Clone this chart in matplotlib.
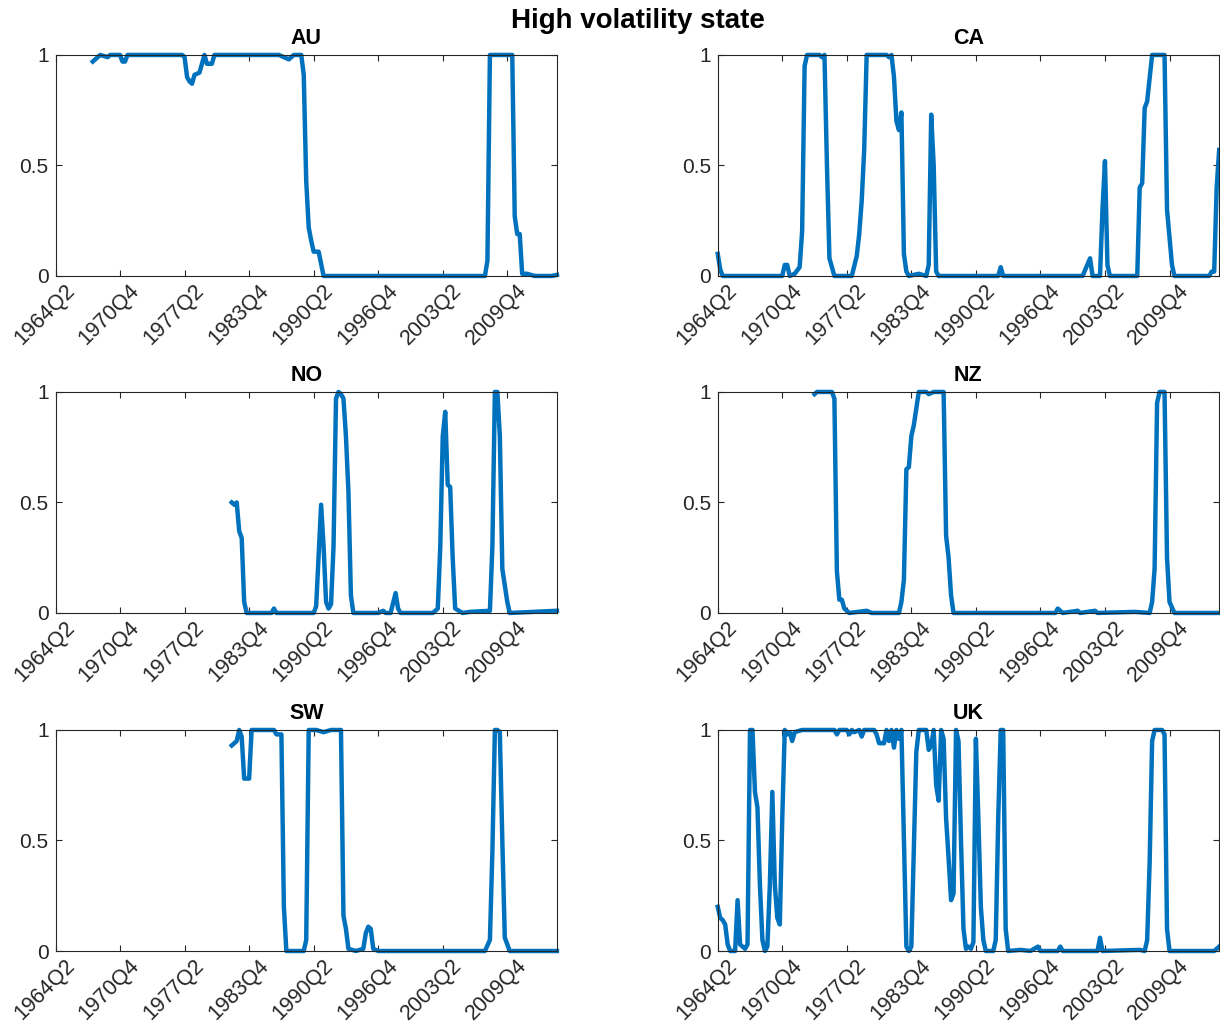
import matplotlib
matplotlib.use("Agg")
import matplotlib.pyplot as plt
import matplotlib.transforms as mtransforms

# quarters are counted from 1964Q2 (= 0)
tick_pos = [0, 26, 52, 78, 104, 130, 156, 182]
tick_labels = ["1964Q2", "1970Q4", "1977Q2", "1983Q4", "1990Q2", "1996Q4", "2003Q2", "2009Q4"]

au_q = [15, 18, 21, 22, 26, 27, 28, 29, 51, 52, 53, 54, 55, 56, 58, 60, 61, 63, 64, 90, 94, 96, 99,
        100, 101, 102, 103, 104, 106, 108, 173, 174, 175, 184, 185, 186, 187, 188, 190, 193, 200, 202]
au_p = [0.97, 1.0, 0.99, 1.0, 1.0, 0.97, 0.97, 1.0, 1.0, 0.99, 0.90, 0.88, 0.87, 0.91, 0.92, 1.0, 0.96, 0.96, 1.0, 1.0, 0.98, 1.0, 1.0,
        0.91, 0.43, 0.22, 0.16, 0.11, 0.11, 0.0, 0.0, 0.07, 1.0, 1.0, 0.27, 0.19, 0.19, 0.01, 0.01, 0.0, 0.0, 0.005]

ca_q = [0, 1, 2, 26, 27, 28, 29, 31, 33, 34, 35, 36, 41, 42, 43, 44, 45, 47, 54, 56, 57, 58, 59, 60,
        68, 69, 70, 71, 72, 73, 74, 75, 76, 77, 81, 84, 85, 86, 87, 88, 89, 113, 114, 115, 147, 150, 151,
        154, 155, 156, 157, 158, 169, 170, 171, 172, 173, 175, 180, 181, 183, 184, 198, 199, 200, 201, 202]
ca_p = [0.10, 0.03, 0.0, 0.0, 0.05, 0.05, 0.0, 0.01, 0.04, 0.2, 0.95, 1.0, 1.0, 0.99, 1.0, 0.5, 0.08, 0.0, 0.0, 0.09, 0.19, 0.34, 0.57, 1.0,
        1.0, 0.99, 1.0, 0.9, 0.7, 0.66, 0.74, 0.1, 0.02, 0.0, 0.01, 0.0, 0.05, 0.73, 0.5, 0.02, 0.0, 0.0, 0.04, 0.0, 0.0, 0.08, 0.0,
        0.0, 0.3, 0.52, 0.05, 0.0, 0.0, 0.4, 0.42, 0.76, 0.79, 1.0, 1.0, 0.3, 0.05, 0.0, 0.0, 0.02, 0.02, 0.4, 0.57]

no_q = [71, 72, 73, 74, 75, 76, 77, 87, 88, 89, 104, 105, 107, 108, 109, 110, 111, 112, 113, 114, 115, 116,
        117, 118, 119, 120, 130, 132, 133, 135, 137, 138, 139, 152, 154, 155, 156, 157, 158, 159, 160, 161,
        164, 167, 175, 176, 177, 178, 179, 180, 182, 183, 202]
no_p = [0.5, 0.49, 0.5, 0.37, 0.34, 0.05, 0.0, 0.0, 0.02, 0.0, 0.0, 0.03, 0.49, 0.3, 0.05, 0.02, 0.04, 0.3, 0.97, 1.0, 0.99, 0.97,
        0.8, 0.55, 0.08, 0.0, 0.0, 0.01, 0.0, 0.0, 0.09, 0.02, 0.0, 0.0, 0.02, 0.3, 0.8, 0.91, 0.58, 0.57, 0.25, 0.02,
        0.0, 0.005, 0.01, 0.3, 1.0, 1.0, 0.8, 0.2, 0.05, 0.0, 0.01]

nz_q = [39, 40, 46, 47, 48, 49, 50, 51, 53, 60, 62, 73, 74, 75, 76, 77, 78, 79, 81, 84, 85, 87, 91, 92,
        93, 94, 95, 136, 137, 139, 145, 146, 152, 153, 168, 174, 175, 176, 177, 178, 180, 181, 182, 184, 202]
nz_p = [0.99, 1.0, 1.0, 0.97, 0.19, 0.06, 0.06, 0.02, 0.0, 0.01, 0.0, 0.0, 0.05, 0.15, 0.65, 0.66, 0.8, 0.85, 1.0, 1.0, 0.99, 1.0, 1.0, 0.35,
        0.25, 0.08, 0.0, 0.0, 0.02, 0.0, 0.01, 0.0, 0.01, 0.0, 0.005, 0.0, 0.05, 0.2, 0.95, 1.0, 1.0, 0.25, 0.05, 0.0, 0.0]

sw_q = [71, 73, 74, 75, 76, 78, 79, 88, 89, 91, 92, 93, 100, 101, 102, 105, 108, 111, 115, 116, 117, 118,
        121, 124, 125, 126, 127, 128, 130, 173, 175, 176, 177, 178, 179, 180, 181, 183, 202]
sw_p = [0.93, 0.95, 1.0, 0.97, 0.78, 0.78, 1.0, 1.0, 0.98, 0.98, 0.2, 0.0, 0.0, 0.05, 1.0, 1.0, 0.99, 1.0, 1.0, 0.16, 0.1, 0.01,
        0.0, 0.01, 0.08, 0.11, 0.1, 0.01, 0.0, 0.0, 0.05, 0.45, 1.0, 1.0, 0.99, 0.5, 0.06, 0.0, 0.0]

uk_q = [0, 1, 2, 3, 4, 5, 7, 8, 9, 10, 11, 12, 13, 14, 15, 16, 17, 18, 19, 20, 21, 22, 23, 24, 25, 26,
        27, 28, 29, 30, 31, 34, 47, 48, 49, 52, 53, 54, 55, 57, 58, 59, 63, 64, 65, 67, 68, 69, 70, 71,
        72, 73, 74, 76, 77, 78, 80, 81, 84, 85, 86, 87, 88, 89, 90, 91, 92, 93, 94, 95, 96, 97, 98, 99,
        100, 101, 102, 103, 104, 105, 106, 107, 108, 111, 112, 113, 114, 115, 116, 117, 122, 126, 129,
        130, 137, 138, 139, 153, 154, 155, 170, 172, 173, 174, 175, 176, 179, 180, 181, 182, 200, 202]
uk_p = [0.20, 0.15, 0.14, 0.12, 0.03, 0.0, 0.0, 0.23, 0.03, 0.02, 0.01, 0.03, 1.0, 1.0, 0.72, 0.65, 0.3, 0.05, 0.0, 0.02, 0.3, 0.72, 0.3, 0.15, 0.12, 0.6,
        1.0, 0.98, 0.99, 0.95, 0.99, 1.0, 1.0, 0.98, 1.0, 1.0, 0.98, 1.0, 0.99, 1.0, 0.97, 1.0, 1.0, 0.98, 0.94, 0.94, 1.0, 0.95, 1.0, 0.92,
        1.0, 0.96, 1.0, 0.02, 0.0, 0.02, 0.9, 1.0, 1.0, 0.91, 0.93, 1.0, 0.75, 0.68, 1.0, 0.96, 0.6, 0.42, 0.23, 0.26, 1.0, 0.95, 0.5, 0.1,
        0.01, 0.02, 0.01, 0.04, 0.96, 0.6, 0.2, 0.05, 0.0, 0.0, 0.05, 0.6, 1.0, 1.0, 0.1, 0.0, 0.005, 0.0, 0.02,
        0.0, 0.0, 0.02, 0.0, 0.0, 0.06, 0.0, 0.005, 0.0, 0.05, 0.4, 0.95, 1.0, 1.0, 0.98, 0.1, 0.0, 0.0, 0.02]

panels = [("AU", au_q, au_p), ("CA", ca_q, ca_p), ("NO", no_q, no_p),
          ("NZ", nz_q, nz_p), ("SW", sw_q, sw_p), ("UK", uk_q, uk_p)]

plt.rcParams["font.family"] = ["Liberation Sans", "DejaVu Sans"]

fig = plt.figure(figsize=(12.2, 10.29), dpi=100)

lefts = [0.0455, 0.5883]
bottoms = [0.7318, 0.4043, 0.0758]
w, h = 0.411, 0.2148
edge = "#262626"
# MATLAB puts the top-right corner of rotated labels a bit right of the tick
shift = mtransforms.ScaledTranslation(0.09, -0.04, fig.dpi_scale_trans)

for i, (name, q, p) in enumerate(panels):
    ax = fig.add_axes([lefts[i % 2], bottoms[i // 2], w, h])
    ax.plot(q, p, color="#0072BD", lw=3.2, solid_joinstyle="round", clip_on=False)
    ax.set_xlim(0, 202)
    ax.set_ylim(0, 1)
    ax.set_yticks([0, 0.5, 1])
    ax.set_yticklabels(["0", "0.5", "1"])
    ax.set_xticks(tick_pos)
    ax.set_xticklabels([])
    for pos, lab in zip(tick_pos, tick_labels):
        ax.text(pos, 0, lab, transform=ax.get_xaxis_transform() + shift,
                rotation=45, ha="right", va="top", rotation_mode="anchor",
                fontsize=15.5, color=edge)
    ax.tick_params(direction="in", top=True, right=True, length=4, width=0.8,
                   colors=edge, pad=5)
    ax.tick_params(axis="y", labelsize=15)
    for s in ax.spines.values():
        s.set_color(edge)
        s.set_linewidth(0.8)
    ax.set_title(name, fontsize=15.5, fontweight="bold", pad=8)

fig.text(0.523, 0.98, "High volatility state", ha="center", va="center",
         fontsize=20, fontweight="bold")

fig.savefig("out.png", dpi=100)
